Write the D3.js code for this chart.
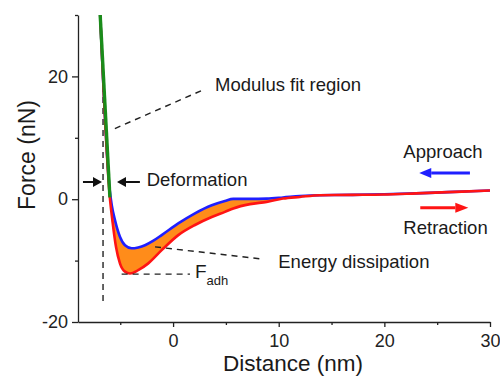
<!DOCTYPE html>
<html>
<head>
<meta charset="utf-8">
<script src="https://cdn.jsdelivr.net/npm/d3@7.9.0/dist/d3.min.js"></script>
<style>
  body { margin: 0; background: #fff; }
  svg { display: block; font-family: 'Liberation Sans', Arial, sans-serif; }
  .axis path, .axis line { stroke: #222; stroke-width: 1.3; }
  .axis text { font-size: 18px; fill: #222; font-family: 'Liberation Sans', Arial, sans-serif; }
  .note { font-size: 18.5px; fill: #1a1a1a; }
</style>
</head>
<body>
<svg id="chart" width="500" height="377"></svg>
<script>
// approach curve (blue)
const approachX = [-6.9, -6.0, -5.8, -5.5, -5.03, -4.55, -3.92, -3.3, -2.66, -1.9, -1.08, 0.49, 2.07, 3.66, 4.91, 5.7, 7.28, 8.86, 10.4, 12.0, 13.9, 17.0, 20.0, 23.0, 26.0, 30.0];
const approachF = [30, 1.5, -1.0, -3.4, -6.1, -7.5, -8.0, -7.85, -7.5, -6.8, -5.85, -3.95, -2.3, -0.98, -0.28, 0.05, 0.05, 0.1, 0.28, 0.5, 0.65, 0.7, 0.8, 0.95, 1.15, 1.42];

// retraction curve (red)
const retractX = [-6.9, -6.0, -5.72, -5.4, -5.03, -4.55, -4.08, -3.3, -2.35, -1.08, 0.49, 2.07, 3.66, 4.91, 5.7, 7.28, 8.86, 10.4, 12.0, 13.9, 17.0, 19.9, 23.0, 26.0, 30.0];
const retractF = [30, 0.6, -3.8, -7.8, -10.45, -11.8, -12.1, -11.55, -10.45, -8.3, -5.85, -4.2, -2.9, -2.06, -1.5, -0.8, -0.44, 0.1, 0.37, 0.65, 0.7, 0.76, 0.95, 1.15, 1.41];

// modulus fit line (green)
const fitX = [-6.9, -5.98];
const fitF = [30, 0.3];

const xMajor = [0, 10, 20, 30];
const xMinor = [-5, 5, 15, 25];
const yMajor = [-20, 0, 20];
const yMinor = [-10, 10, 30];

const svg = d3.select('#chart');
const x = d3.scaleLinear().domain([-9, 30]).range([78, 490]);
const y = d3.scaleLinear().domain([-20, 30]).range([322, 15]);

const pts = (xs, ys) => xs.map((v, i) => [v, ys[i]]);
const approach = pts(approachX, approachF);
const retract = pts(retractX, retractF);
const fit = pts(fitX, fitF);

const line = d3.line().x((d) => x(d[0])).y((d) => y(d[1])).curve(d3.curveMonotoneX);

// dashed guide under the curves
const dash = (x1, y1, x2, y2) => svg.append('line')
  .attr('x1', x(x1)).attr('y1', y(y1)).attr('x2', x(x2)).attr('y2', y(y2))
  .attr('stroke', '#222').attr('stroke-width', 1.4).attr('stroke-dasharray', '6,5');

dash(-6.63, 22, -6.63, -16.7);

// dissipated energy: area under the approach curve, above the retraction curve
const defs = svg.append('defs');
defs.append('clipPath').attr('id', 'below-approach')
  .append('path')
  .attr('d', d3.area().x((d) => x(d[0])).y0(y(-20)).y1((d) => y(d[1])).curve(d3.curveMonotoneX)(approach.slice(1, 21)));

svg.append('path')
  .attr('clip-path', 'url(#below-approach)')
  .attr('d', d3.area().x((d) => x(d[0])).y0(y(5)).y1((d) => y(d[1])).curve(d3.curveMonotoneX)(retract.slice(1, 20)))
  .attr('fill', '#ff8c1a')
  .attr('stroke', 'none');

svg.append('path').attr('d', line(approach)).attr('fill', 'none')
  .attr('stroke', '#1f1fff').attr('stroke-width', 2.6);
svg.append('path').attr('d', line(retract)).attr('fill', 'none')
  .attr('stroke', '#ff1414').attr('stroke-width', 2.6);
svg.append('path').attr('d', d3.line().x((d) => x(d[0])).y((d) => y(d[1]))(fit)).attr('fill', 'none')
  .attr('stroke', '#1a8c1a').attr('stroke-width', 3.4);

// axes
svg.append('g').attr('class', 'axis').attr('transform', `translate(0,${y(-20)})`)
  .call(d3.axisBottom(x).tickValues(xMajor).tickSize(5).tickSizeOuter(0).tickPadding(7).tickFormat((d) => String(d)));
svg.append('g').attr('class', 'axis').attr('transform', `translate(0,${y(-20)})`)
  .call(d3.axisBottom(x).tickValues(xMinor).tickSize(3).tickSizeOuter(0).tickFormat(''))
  .select('.domain').remove();

svg.append('g').attr('class', 'axis').attr('transform', `translate(${x(-9)},0)`)
  .call(d3.axisLeft(y).tickValues(yMajor).tickSize(6).tickSizeOuter(0).tickPadding(4).tickFormat((d) => String(d)));
svg.append('g').attr('class', 'axis').attr('transform', `translate(${x(-9)},0)`)
  .call(d3.axisLeft(y).tickValues(yMinor).tickSize(3).tickSizeOuter(0).tickFormat(''))
  .select('.domain').remove();

svg.append('text')
  .attr('x', 293).attr('y', 371)
  .attr('text-anchor', 'middle')
  .attr('font-size', 22.5).attr('fill', '#1a1a1a')
  .text('Distance (nm)');

svg.append('text')
  .attr('transform', 'translate(35,155) rotate(-90)')
  .attr('text-anchor', 'middle')
  .attr('font-size', 23).attr('fill', '#1a1a1a')
  .text('Force (nN)');

// annotations
dash(-5.51, 11.5, 2.71, 17.7);
dash(-1.71, -7.76, 8.51, -9.76);
dash(-4.87, -12.2, 1.6, -12.2);

function arrow(x1, x2, f, color, width, headLen, headHalf) {
  const px1 = x(x1), px2 = x(x2), py = y(f);
  const dir = px2 > px1 ? 1 : -1;
  const base = px2 - dir * headLen;
  svg.append('line')
    .attr('x1', px1).attr('y1', py).attr('x2', base).attr('y2', py)
    .attr('stroke', color).attr('stroke-width', width);
  svg.append('path')
    .attr('d', `M${px2},${py}L${base},${py - headHalf}L${base},${py + headHalf}Z`)
    .attr('fill', color);
}

arrow(-8.53, -6.73, 2.8, '#111', 2, 9, 5);
arrow(-3.14, -5.31, 2.8, '#111', 2, 9, 5);
arrow(28.1, 23.3, 4.28, '#1f1fff', 3, 12, 5);
arrow(23.4, 27.95, -1.41, '#ff1414', 3, 13, 5);

const note = (xv, fv, txt) => svg.append('text')
  .attr('class', 'note')
  .attr('x', x(xv)).attr('y', y(fv))
  .text(txt);

note(3.97, 17.6, 'Modulus fit region');
note(-2.5, 2.1, 'Deformation');
note(9.96, -11.27, 'Energy dissipation');
note(21.8, 6.78, 'Approach');
note(21.8, -5.74, 'Retraction');

const fadh = svg.append('text').attr('class', 'note')
  .attr('x', x(2.07)).attr('y', y(-12.85));
fadh.append('tspan').attr('font-size', 19).text('F');
fadh.append('tspan').attr('font-size', 13).attr('dy', 7).text('adh');
</script>
</body>
</html>
